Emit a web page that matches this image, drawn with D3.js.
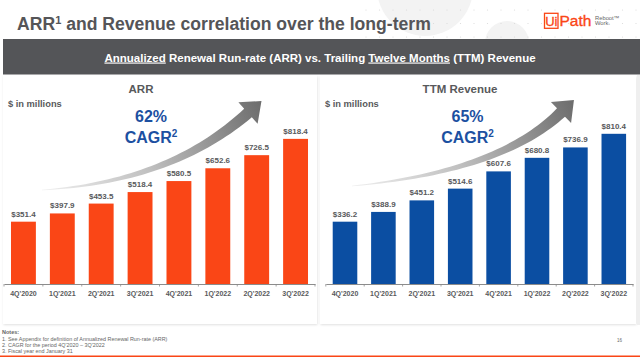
<!DOCTYPE html>
<html>
<head>
<meta charset="utf-8">
<script src="https://cdn.jsdelivr.net/npm/d3@7"></script>
<style>
  html, body { margin: 0; padding: 0; background: #ffffff; }
  svg { display: block; }
  text { font-family: "Liberation Sans", Arial, Helvetica, sans-serif; }
</style>
</head>
<body>
<script>
// ---------------- DATA ----------------
const categories = ["4Q'2020", "1Q'2021", "2Q'2021", "3Q'2021", "4Q'2021", "1Q'2022", "2Q'2022", "3Q'2022"];
const arrValues = [351.4, 397.9, 453.5, 518.4, 580.5, 652.6, 726.5, 818.4];
const ttmValues = [336.2, 388.9, 451.2, 514.6, 607.6, 680.8, 736.9, 810.4];
const chartTitles = ["ARR", "TTM Revenue"];
const cagrLabels = ["62%", "65%"];
const notes = [
  "1. See Appendix for definition of Annualized Renewal Run-rate (ARR)",
  "2. CAGR for the period 4Q'2020 \u2013 3Q'2022",
  "3. Fiscal year end January 31"
];

// ---------------- SETUP ----------------
const W = 640, H = 357;
const svg = d3.select("body").append("svg").attr("width", W).attr("height", H);
const defs = svg.append("defs");

const GRAY_TEXT = "#58595b";
const ORANGE = "#fa4616";
const BLUE = "#0b4ea2";
const CAGR_BLUE = "#1c50a1";

// shadow filter
const f = defs.append("filter").attr("id", "shadow").attr("x", "-5%").attr("y", "-5%").attr("width", "110%").attr("height", "110%");
f.append("feDropShadow").attr("dx", 0.5).attr("dy", 1).attr("stdDeviation", 1.2).attr("flood-color", "#000").attr("flood-opacity", 0.12);

// ---------------- HEADER DECORATION ----------------
const deco = svg.append("g");
deco.append("circle").attr("cx", 425).attr("cy", -12).attr("r", 48).attr("fill", "#f3f3f3");
deco.append("circle").attr("cx", 507).attr("cy", 43).attr("r", 22).attr("fill", "#f3f3f3");
for (let gx = 366; gx < W; gx += 13.5) {
  for (const gy of [10, 23.5, 37]) {
    deco.append("circle").attr("cx", gx).attr("cy", gy).attr("r", 0.6).attr("fill", "#d9d9d9");
  }
}

// Title
const title = svg.append("text").attr("x", 17).attr("y", 30)
  .attr("font-size", 17.6).attr("font-weight", "bold").attr("fill", "#555558");
title.append("tspan").text("ARR");
title.append("tspan").attr("font-size", 11).attr("dy", -6.5).text("1");
title.append("tspan").attr("dy", 6.5).text(" and Revenue correlation over the long-term");

// Logo
const logo = svg.append("g");
logo.append("rect").attr("x", 544.5).attr("y", 13.3).attr("width", 13.5).attr("height", 15)
  .attr("fill", "none").attr("stroke", ORANGE).attr("stroke-width", 1.3);
logo.append("text").attr("x", 551.3).attr("y", 25.8).attr("text-anchor", "middle")
  .attr("font-size", 13).attr("fill", ORANGE).attr("stroke", ORANGE).attr("stroke-width", 0.3).text("Ui");
logo.append("text").attr("x", 559.5).attr("y", 26.2)
  .attr("font-size", 15.5).attr("fill", ORANGE).attr("stroke", ORANGE).attr("stroke-width", 0.35).text("Path");
logo.append("text").attr("x", 595).attr("y", 19.5).attr("font-size", 5.8).attr("fill", "#666").text("Reboot\u2122");
logo.append("text").attr("x", 595).attr("y", 25.2).attr("font-size", 5.8).attr("fill", "#666").text("Work.");

// Dark band
svg.append("rect").attr("x", 3).attr("y", 39).attr("width", W - 3).attr("height", 35.5).attr("fill", "#545558");
const band = svg.append("text").attr("x", 320).attr("y", 61.5).attr("text-anchor", "middle")
  .attr("font-size", 11.5).attr("font-weight", "bold").attr("fill", "#ffffff");
band.append("tspan").attr("text-decoration", "underline").text("Annualized");
band.append("tspan").text(" Renewal Run-rate (ARR) vs. Trailing ");
band.append("tspan").attr("text-decoration", "underline").text("Twelve Months");
band.append("tspan").text(" (TTM) Revenue");

// ---------------- PANELS ----------------
const panels = [
  { x: 3, w: 314, range: [4, 315], yTop: 124.4, values: arrValues, color: ORANGE,
    titleX: 141, cagrX: 151, arrow: { p0: [42, 190], c: [170, 182], p1: [248, 113] } },
  { x: 320, w: 316, range: [325.8, 633], yTop: 117.2, values: ttmValues, color: BLUE,
    titleX: 460, cagrX: 467.5, arrow: { p0: [352, 186], c: [500, 171.5], p1: [561, 112.5] } }
];
const baseY = 284;

panels.forEach((p, i) => {
  const g = svg.append("g");
  g.append("rect").attr("x", p.x).attr("y", 75.5).attr("width", p.w).attr("height", 248.5)
    .attr("fill", "#fff").attr("filter", "url(#shadow)");

  const x = d3.scaleBand().domain(categories).range(p.range).paddingInner(0.36).paddingOuter(0.18);
  const y = d3.scaleLinear().domain([0, 900]).range([baseY, p.yTop]);

  // chart title
  g.append("text").attr("x", p.titleX).attr("y", 93).attr("text-anchor", "middle")
    .attr("font-size", 11.5).attr("font-weight", "bold").attr("fill", GRAY_TEXT).text(chartTitles[i]);
  g.append("text").attr("x", p.x + 5).attr("y", 107).attr("font-size", 9.3).attr("font-weight", "bold")
    .attr("fill", GRAY_TEXT).text("$ in millions");

  // arrow
  const a = p.arrow;
  const gradId = "arrowGrad" + i;
  const tipDir = (() => { const dx = a.p1[0] - a.c[0], dy = a.p1[1] - a.c[1]; const l = Math.hypot(dx, dy); return [dx / l, dy / l]; })();
  const tip = [a.p1[0] + tipDir[0] * 18, a.p1[1] + tipDir[1] * 18];
  const grad = defs.append("linearGradient").attr("id", gradId).attr("gradientUnits", "userSpaceOnUse")
    .attr("x1", a.p0[0]).attr("y1", a.p0[1]).attr("x2", tip[0]).attr("y2", tip[1]);
  grad.append("stop").attr("offset", 0).attr("stop-color", "#efefef");
  grad.append("stop").attr("offset", 0.45).attr("stop-color", "#c0c0c0");
  grad.append("stop").attr("offset", 1).attr("stop-color", "#6c6c6c");
  const N = 40, upper = [], lower = [];
  for (let k = 0; k <= N; k++) {
    const t = k / N;
    const px = (1 - t) * (1 - t) * a.p0[0] + 2 * (1 - t) * t * a.c[0] + t * t * a.p1[0];
    const py = (1 - t) * (1 - t) * a.p0[1] + 2 * (1 - t) * t * a.c[1] + t * t * a.p1[1];
    const tx = 2 * (1 - t) * (a.c[0] - a.p0[0]) + 2 * t * (a.p1[0] - a.c[0]);
    const ty = 2 * (1 - t) * (a.c[1] - a.p0[1]) + 2 * t * (a.p1[1] - a.c[1]);
    const l = Math.hypot(tx, ty);
    const nx = -ty / l, ny = tx / l;
    const hw = (0.5 + t * 11) / 2;
    upper.push([px + nx * hw, py + ny * hw]);
    lower.push([px - nx * hw, py - ny * hw]);
  }
  const n = [-tipDir[1], tipDir[0]];
  const hh = 14.5;
  const pts = upper.concat([[a.p1[0] + n[0] * hh, a.p1[1] + n[1] * hh], tip, [a.p1[0] - n[0] * hh, a.p1[1] - n[1] * hh]], lower.reverse());
  g.append("path").attr("d", d3.line()(pts) + "Z").attr("fill", `url(#${gradId})`);

  // CAGR
  g.append("text").attr("x", p.cagrX).attr("y", 121.5).attr("text-anchor", "middle")
    .attr("font-size", 16).attr("font-weight", "bold").attr("fill", CAGR_BLUE).text(cagrLabels[i]);
  const cg = g.append("text").attr("x", p.cagrX).attr("y", 142.5).attr("text-anchor", "middle")
    .attr("font-size", 16).attr("font-weight", "bold").attr("fill", CAGR_BLUE);
  cg.append("tspan").text("CAGR");
  cg.append("tspan").attr("font-size", 10).attr("dy", -6).text("2");

  // bars
  g.selectAll("rect.bar").data(p.values).join("rect").attr("class", "bar")
    .attr("x", (d, k) => x(categories[k])).attr("width", x.bandwidth())
    .attr("y", d => y(d)).attr("height", d => y(0) - y(d)).attr("fill", p.color);

  // value labels
  g.selectAll("text.val").data(p.values).join("text").attr("class", "val")
    .attr("x", (d, k) => x(categories[k]) + x.bandwidth() / 2).attr("y", d => y(d) - 5)
    .attr("text-anchor", "middle").attr("font-size", 8).attr("font-weight", "bold")
    .attr("fill", GRAY_TEXT).text(d => "$" + d.toFixed(1));

  // axis
  const axis = d3.axisBottom(x).tickSize(0).tickPadding(7);
  const ag = g.append("g").attr("transform", `translate(0,${baseY})`).call(axis);
  ag.select(".domain").attr("stroke", "#8c8c8c").attr("stroke-width", 1);
  ag.selectAll(".tick text").attr("font-size", 7).attr("font-weight", "bold").attr("fill", GRAY_TEXT)
    .attr("font-family", "'Liberation Sans', Arial, sans-serif");
  const step = x.step();
  const bounds = categories.map(c => x(c) - step * x.paddingInner() / 2).concat([x(categories[categories.length - 1]) + x.bandwidth() + step * x.paddingInner() / 2]);
  g.selectAll("line.bt").data(bounds).join("line").attr("class", "bt")
    .attr("x1", d => d).attr("x2", d => d).attr("y1", baseY).attr("y2", baseY + 2.5)
    .attr("stroke", "#8c8c8c").attr("stroke-width", 0.8);
});

// right edge strip
svg.append("rect").attr("x", 637).attr("y", 75).attr("width", 3).attr("height", 250).attr("fill", "#efefef");

// ---------------- NOTES ----------------
svg.append("text").attr("x", 2).attr("y", 334).attr("font-size", 5.5).attr("font-weight", "bold").attr("fill", "#666").text("Notes:");
svg.selectAll("text.note").data(notes).join("text").attr("class", "note")
  .attr("x", 2).attr("y", (d, k) => 340.8 + k * 6.2).attr("font-size", 5.4).attr("fill", "#666").text(d => d);
svg.append("text").attr("x", 617).attr("y", 342).attr("font-size", 4.5).attr("fill", "#666").text("16");
svg.append("rect").attr("x", 0).attr("y", 355.5).attr("width", W).attr("height", 1.5).attr("fill", ORANGE);
</script>
</body>
</html>
